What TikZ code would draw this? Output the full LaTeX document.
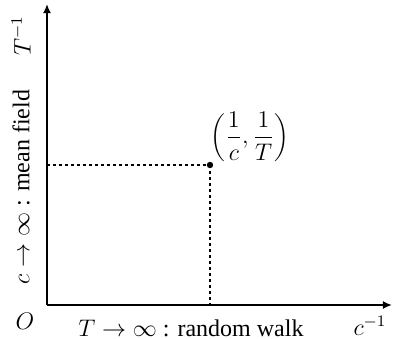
\documentclass[tikz,border=0pt]{standalone}
\usepackage[no-math]{fontspec}
\setmainfont{Liberation Serif}
\usetikzlibrary{arrows.meta}
\tikzset{
  axis/.style={line width=0.9pt,-{Latex[length=4.5pt,width=4pt]}},
  guide/.style={line width=0.6pt,dash pattern=on 1.6pt off 1.4pt},
  lbl/.style={inner sep=0pt,font=\fontsize{12}{14}\selectfont}
}
\begin{document}
\begin{tikzpicture}[x=0.5pt,y=-0.5pt]
\useasboundingbox (0,0) rectangle (393,339);
\coordinate (O) at (47,305);
\coordinate (ytop) at (47,4);
\coordinate (xend) at (392,305);
\coordinate (P) at (210,165);
\coordinate (Py) at (47,165);
\coordinate (Px) at (210,305);
\draw[guide] (Py) -- (P);
\draw[guide] (P) -- (Px);
\draw[axis] (O) -- (ytop);
\draw[axis] (O) -- (xend);
\fill (P) circle (1.6pt);
\node[lbl] (o) at (25,321) {$O$};
\node[lbl] (xl) at (191,328) {$T\rightarrow\infty$ : random walk};
\node[lbl] (cx) at (370,326) {$c^{-1}$};
\node[lbl,rotate=90] (yl) at (21,187) {$c\rightarrow\infty$ : mean field};
\node[lbl,rotate=90] (ty) at (21,36) {$T^{-1}$};
\node[lbl] (pl) at (250,137) {$\left(\displaystyle\frac{1}{c},\frac{1}{T}\right)$};
\end{tikzpicture}
\end{document}
